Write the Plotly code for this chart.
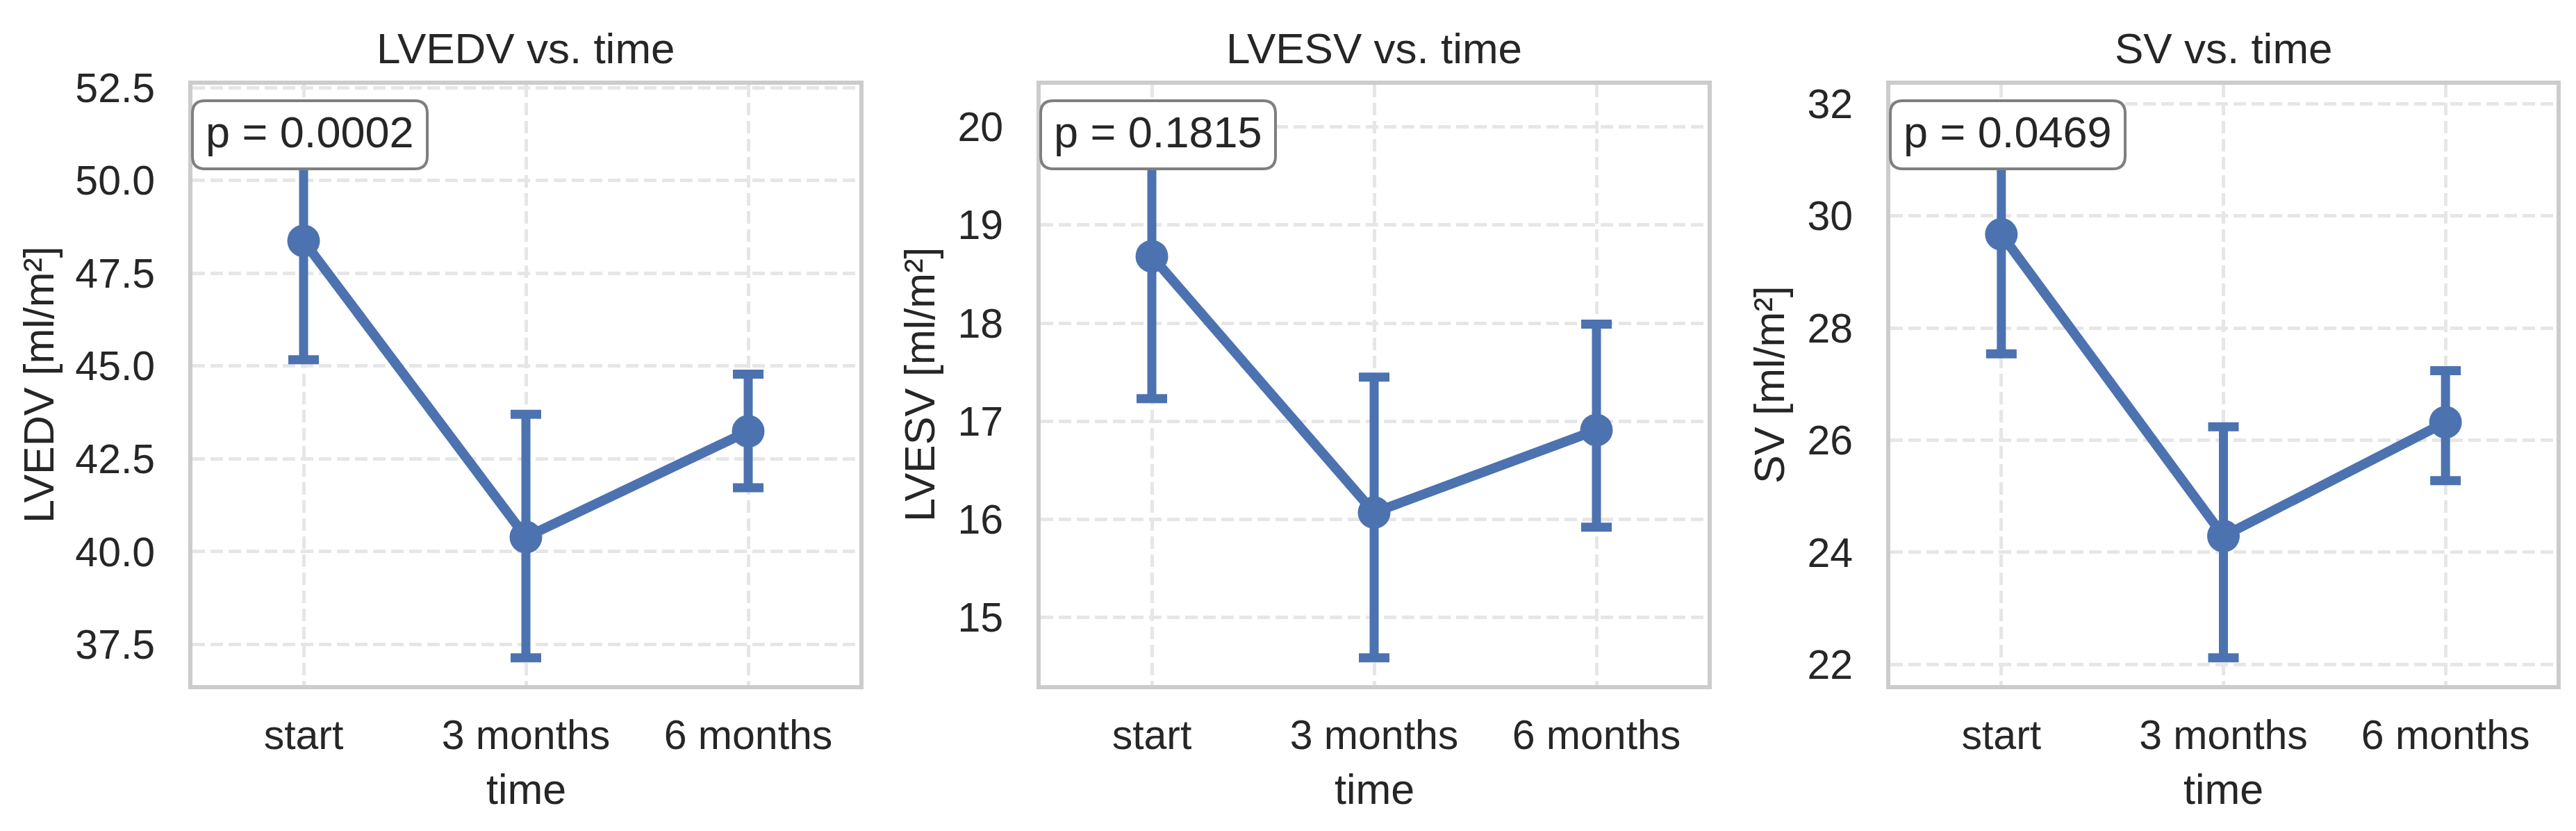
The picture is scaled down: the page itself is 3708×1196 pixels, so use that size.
import plotly.graph_objects as go

# ---------------- data ----------------
categories = ["start", "3 months", "6 months"]

lvedv_mean = [48.37, 40.39, 43.24]
lvedv_lo = [45.17, 37.14, 41.72]
lvedv_hi = [51.84, 43.70, 44.78]

lvesv_mean = [18.68, 16.07, 16.91]
lvesv_lo = [17.23, 14.59, 15.92]
lvesv_hi = [20.15, 17.45, 17.99]

sv_mean = [29.67, 24.29, 26.32]
sv_lo = [27.54, 22.12, 25.28]
sv_hi = [31.85, 26.24, 27.24]

titles = ["LVEDV vs. time", "LVESV vs. time", "SV vs. time"]
y_labels = ["LVEDV [ml/m²]", "LVESV [ml/m²]", "SV [ml/m²]"]
x_label = "time"
p_values = ["0.0002", "0.1815", "0.0469"]
y_ticks = [[37.5, 40.0, 42.5, 45.0, 47.5, 50.0, 52.5],
           [15, 16, 17, 18, 19, 20],
           [22, 24, 26, 28, 30, 32]]
y_tickformat = [".1f", "d", "d"]

# ---------------- style ----------------
W, H = 3708, 1196
BLUE = "#4c72b0"
TXT = "#262626"
GRID = "#e6e6e6"
FRAME = "#cccccc"
FONT = "Liberation Sans, Arial, sans-serif"

# panel geometry in pixels
x_doms_px = [(277, 1237), (1498, 2458), (2721, 3680)]
top_px, bot_px = 122, 986
ytitle_px = [56, 1324, 2547]


def px(x):
    return x / W


def py(y):
    return 1 - y / H


series = [
    (lvedv_mean, lvedv_lo, lvedv_hi),
    (lvesv_mean, lvesv_lo, lvesv_hi),
    (sv_mean, sv_lo, sv_hi),
]

fig = go.Figure()
annotations = []
shapes = []

for i, (mean, lo, hi) in enumerate(series):
    n = "" if i == 0 else str(i + 1)
    xa, ya = "x" + n, "y" + n
    fig.add_trace(go.Scatter(
        x=categories, y=mean, xaxis=xa, yaxis=ya,
        mode="lines+markers",
        line=dict(color=BLUE, width=14),
        marker=dict(color=BLUE, size=47),
        error_y=dict(type="data", symmetric=False,
                     array=[h - m for h, m in zip(hi, mean)],
                     arrayminus=[m - l for m, l in zip(mean, lo)],
                     color=BLUE, thickness=13, width=22),
        showlegend=False, hoverinfo="skip",
    ))
    span = max(hi) - min(lo)
    yr = [min(lo) - 0.05 * span, max(hi) + 0.05 * span]
    x0, x1 = x_doms_px[i]
    common = dict(showline=True, mirror=True, linecolor=FRAME, linewidth=6,
                  showgrid=True, gridcolor=GRID, gridwidth=5, griddash="18px,8px",
                  zeroline=False, ticks="outside", tickcolor="rgba(0,0,0,0)",
                  automargin=False,
                  tickfont=dict(family=FONT, size=59, color=TXT))
    fig.update_layout(**{
        "xaxis" + n: dict(domain=[px(x0), px(x1)], anchor=ya, type="category",
                          range=[-0.5, 2.5], ticklen=15, **common),
        "yaxis" + n: dict(domain=[py(bot_px), py(top_px)], anchor=xa,
                          range=yr, tickvals=y_ticks[i], tickformat=y_tickformat[i],
                          ticklen=36, **common),
    })
    cx = (x0 + x1) / 2
    # title
    annotations.append(dict(text=titles[i], x=px(cx), y=py(69), xref="paper", yref="paper",
                            xanchor="center", yanchor="middle", showarrow=False,
                            font=dict(family=FONT, size=62, color=TXT)))
    # x title
    annotations.append(dict(text=x_label, x=px(cx), y=py(1136), xref="paper", yref="paper",
                            xanchor="center", yanchor="middle", showarrow=False,
                            font=dict(family=FONT, size=61, color=TXT)))
    # y title
    annotations.append(dict(text=y_labels[i], x=px(ytitle_px[i]), y=py((top_px + bot_px) / 2),
                            xref="paper", yref="paper", textangle=-90,
                            xanchor="center", yanchor="middle", showarrow=False,
                            font=dict(family=FONT, size=61, color=TXT)))
    # p-value box (rounded)
    bx0, bx1, by0, by1, r = x0, x0 + 338, 145, 243, 18
    path = (f"M {px(bx0 + r)},{py(by0)} L {px(bx1 - r)},{py(by0)} "
            f"Q {px(bx1)},{py(by0)} {px(bx1)},{py(by0 + r)} "
            f"L {px(bx1)},{py(by1 - r)} Q {px(bx1)},{py(by1)} {px(bx1 - r)},{py(by1)} "
            f"L {px(bx0 + r)},{py(by1)} Q {px(bx0)},{py(by1)} {px(bx0)},{py(by1 - r)} "
            f"L {px(bx0)},{py(by0 + r)} Q {px(bx0)},{py(by0)} {px(bx0 + r)},{py(by0)} Z")
    shapes.append(dict(type="path", path=path, xref="paper", yref="paper",
                       fillcolor="white", line=dict(color="#7f7f7f", width=4), layer="above"))
    annotations.append(dict(text=f"p = {p_values[i]}", x=px((bx0 + bx1) / 2), y=py(190),
                            xref="paper", yref="paper", xanchor="center", yanchor="middle",
                            showarrow=False, font=dict(family=FONT, size=63, color=TXT)))

fig.update_layout(
    width=W, height=H, autosize=False,
    margin=dict(l=0, r=0, t=0, b=0, pad=0, autoexpand=False),
    paper_bgcolor="white", plot_bgcolor="white",
    annotations=annotations, shapes=shapes,
    font=dict(family=FONT, color=TXT),
)

fig.write_html("out.html",
               config={"displayModeBar": False},
               post_script="document.body.style.margin='0';document.body.style.overflow='hidden';")
